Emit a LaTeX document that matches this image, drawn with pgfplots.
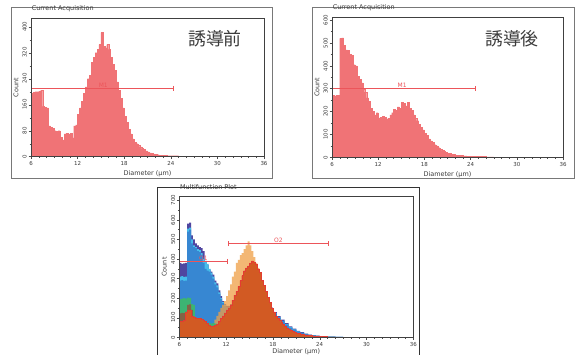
\documentclass[border=0pt]{standalone}
\usepackage{fontspec}
\setmainfont{DejaVu Sans}
\newfontfamily\jp{Noto Sans CJK JP}
\usepackage{pgfplots}
\pgfplotsset{compat=1.18}
\usetikzlibrary{arrows.meta}
\definecolor{histred}{RGB}{240,115,118}
\definecolor{markred}{RGB}{236,85,90}
\definecolor{cP}{RGB}{80,70,160}
\definecolor{cC}{RGB}{70,190,235}
\definecolor{cB}{RGB}{55,135,210}
\definecolor{cO}{RGB}{240,160,70}
\definecolor{cG}{RGB}{60,180,115}
\definecolor{cBr}{RGB}{130,100,70}
\definecolor{cR}{RGB}{210,90,35}
\definecolor{cRedge}{RGB}{228,60,50}
\definecolor{framecol}{RGB}{120,120,120}
\definecolor{txt}{RGB}{60,60,60}
\pgfplotsset{hist/.style={
  scale only axis, anchor=south west, xmin=6, xmax=36, ymin=0,
  xtick={6,12,...,36}, minor x tick num=5, minor y tick num=1,
  tick align=outside, tick pos=left,
  major tick length=2.5bp, minor tick length=1.5bp,
  every tick/.style={gray!60!black, line width=0.4bp},
  axis line style={gray!50!black, line width=0.6bp},
  tick label style={font=\fontsize{5.5}{6}\selectfont, text=txt},
  /pgf/number format/assume math mode=true,
  yticklabel style={rotate=90, anchor=south, inner sep=1.5bp},
  xticklabel style={inner sep=2bp},
  label style={font=\fontsize{6.5}{7}\selectfont, text=txt},
  xlabel={Diameter (μm)}, ylabel={Count},
  xlabel style={inner sep=0.5bp, yshift=-2.5bp},
  ylabel style={inner sep=0.5bp, yshift=2bp},
  title style={at={(0,1)}, anchor=south west, inner sep=0.6bp,
    font=\fontsize{6.5}{7}\selectfont, text=txt},
  axis on top,
}}
\begin{document}
\begin{tikzpicture}
\useasboundingbox (0,0) rectangle (578bp,355bp);
\fill[white] (0,0) rectangle (578bp,355bp);
\draw[framecol, line width=0.8bp] (11.7bp,177bp) rectangle (272.5bp,347.5bp);
\draw[framecol, line width=0.8bp] (312bp,177bp) rectangle (574bp,347.5bp);
\draw[gray!40!black, line width=0.8bp] (157bp,-5bp) rectangle (419.3bp,167.3bp);

% ---------------- Panel 1 ----------------
\begin{axis}[hist, at={(31bp,198.3bp)}, width=233bp, height=138.4bp,
  ymax=426, ytick={0,80,...,400}, title={Current Acquisition}]
\addplot[const plot, fill=histred, draw=histred, line width=0.3bp] coordinates {
(6.00,195) (6.25,198) (6.50,200) (6.75,200) (7.00,202) (7.25,205)
(7.50,155) (7.75,152) (8.00,150) (8.25,95) (8.50,90) (8.75,88)
(9.00,80) (9.25,78) (9.50,80) (9.75,60) (10.00,52) (10.25,70)
(10.50,72) (10.75,68) (11.00,72) (11.25,58) (11.50,95) (11.75,98)
(12.00,130) (12.25,150) (12.50,170) (12.75,195) (13.00,215) (13.25,240)
(13.50,250) (13.75,290) (14.00,305) (14.25,320) (14.50,330) (14.75,345)
(15.00,382) (15.25,340) (15.50,335) (15.75,345) (16.00,330) (16.25,305)
(16.50,285) (16.75,265) (17.00,230) (17.25,205) (17.50,180) (17.75,150)
(18.00,125) (18.25,105) (18.50,85) (18.75,70) (19.00,55) (19.25,45)
(19.50,40) (19.75,35) (20.00,30) (20.25,25) (20.50,22) (20.75,18)
(21.00,15) (21.25,12) (21.50,10) (21.75,8) (22.00,7) (22.25,6)
(22.50,5) (23.00,4) (23.50,3) (24.00,3) (25.00,2) (26.00,1)
(27.00,1) (28.00,0.5) (29.00,0)} \closedcycle;
\draw[markred, line width=0.6bp, -{Bar[width=5bp]}] (axis cs:6,210) -- (axis cs:24.4,210);
\node[text=markred, font=\fontsize{6}{6}\selectfont, anchor=south, inner sep=0.5bp] at (axis cs:15.3,210) {M1};
\end{axis}
\node[font=\jp\fontsize{18}{18}\selectfont, text=txt] at (215bp,316.5bp) {誘導前};

% ---------------- Panel 2 ----------------
\begin{axis}[hist, at={(332bp,197.7bp)}, width=231bp, height=140bp,
  ymax=612, ytick={0,100,...,600}, title={Current Acquisition}]
\addplot[const plot, fill=histred, draw=histred, line width=0.3bp] coordinates {
(6.00,270) (6.25,268) (6.50,270) (6.75,272) (7.00,520) (7.25,522)
(7.50,490) (7.75,470) (8.00,468) (8.25,450) (8.50,445) (8.75,405)
(9.00,400) (9.25,355) (9.50,340) (9.75,325) (10.00,300) (10.25,285)
(10.50,260) (10.75,245) (11.00,215) (11.25,200) (11.50,185) (11.75,195)
(12.00,172) (12.25,175) (12.50,180) (12.75,175) (13.00,168) (13.25,170)
(13.50,185) (13.75,195) (14.00,210) (14.25,205) (14.50,220) (14.75,215)
(15.00,240) (15.25,235) (15.50,225) (15.75,240) (16.00,215) (16.25,205)
(16.50,185) (16.75,170) (17.00,160) (17.25,145) (17.50,130) (17.75,120)
(18.00,105) (18.25,95) (18.50,80) (18.75,72) (19.00,65) (19.25,55)
(19.50,50) (19.75,42) (20.00,35) (20.25,30) (20.50,27) (20.75,22)
(21.00,18) (21.25,16) (21.50,14) (21.75,12) (22.00,10) (22.50,8)
(23.00,6) (23.50,5) (24.00,4) (25.00,3) (26.00,2) (27.00,1)
(28.00,1) (29.00,0.5) (30.00,0)} \closedcycle;
\draw[markred, line width=0.6bp, -{Bar[width=5bp]}] (axis cs:6,300) -- (axis cs:24.7,300);
\node[text=markred, font=\fontsize{6}{6}\selectfont, anchor=south, inner sep=0.5bp] at (axis cs:15.1,300) {M1};
\end{axis}
\node[font=\jp\fontsize{18}{18}\selectfont, text=txt] at (512bp,316.5bp) {誘導後};

% ---------------- Panel 3 ----------------
\begin{axis}[hist, at={(179.3bp,17.7bp)}, width=234bp, height=140.6bp,
  ymax=718, ytick={0,100,...,700}, title={Multifunction Plot},
  xlabel style={yshift=3.2bp}]
% purple
\addplot[const plot, fill=cP, draw=none] coordinates {
(6.00,380) (6.25,375) (6.50,378) (6.75,380) (7.00,580) (7.25,585)
(7.50,520) (7.75,500) (8.00,480) (8.25,470) (8.50,460) (8.75,455)
(9.00,440) (9.25,390) (9.50,370) (9.75,345) (10.00,335) (10.25,320)
(10.50,290) (10.75,275) (11.00,240) (11.25,210) (11.50,185) (11.75,170)
(12.00,160) (12.50,170) (13.00,190) (13.50,205) (14.00,225) (14.50,240)
(15.00,260) (15.50,255) (16.00,240) (16.50,210) (17.00,180) (17.50,152)
(18.00,128) (18.50,108) (19.00,90) (19.50,72) (20.00,56) (20.50,44)
(21.00,33) (21.50,26) (22.00,19) (22.50,14) (23.00,11) (23.50,8)
(24.00,6) (25.00,4) (26.00,2.5) (27.00,1.5) (28.00,0.8) (29.00,0)} \closedcycle;
% cyan
\addplot[const plot, fill=cC, draw=none] coordinates {
(6.00,310) (6.25,312) (6.50,308) (6.75,310) (7.00,555) (7.25,560)
(7.50,500) (7.75,470) (8.00,460) (8.25,450) (8.50,445) (8.75,430)
(9.00,400) (9.25,385) (9.50,375) (9.75,350) (10.00,330) (10.25,310)
(10.50,280) (10.75,265) (11.00,230) (11.25,200) (11.50,180) (11.75,165)
(12.00,152) (12.50,162) (13.00,182) (13.50,198) (14.00,218) (14.50,232)
(15.00,252) (15.50,247) (16.00,232) (16.50,202) (17.00,172) (17.50,147)
(18.00,122) (18.50,102) (19.00,84) (19.50,67) (20.00,52) (20.50,40)
(21.00,30) (21.50,23) (22.00,17) (22.50,13) (23.00,10) (23.50,7)
(24.00,5) (25.00,3) (26.00,2) (27.00,1) (28.00,0.5) (29.00,0)} \closedcycle;
% blue
\addplot[const plot, fill=cB, draw=none] coordinates {
(6.00,290) (6.25,292) (6.50,288) (6.75,290) (7.00,540) (7.25,550)
(7.50,480) (7.75,460) (8.00,455) (8.25,440) (8.50,435) (8.75,420)
(9.00,380) (9.25,350) (9.50,340) (9.75,335) (10.00,320) (10.25,300)
(10.50,270) (10.75,255) (11.00,220) (11.25,195) (11.50,175) (11.75,160)
(12.00,150) (12.50,160) (13.00,180) (13.50,195) (14.00,215) (14.50,230)
(15.00,250) (15.50,245) (16.00,230) (16.50,200) (17.00,170) (17.50,145)
(18.00,120) (18.50,100) (19.00,82) (19.50,65) (20.00,50) (20.50,38)
(21.00,28) (21.50,22) (22.00,16) (22.50,12) (23.00,9) (23.50,7)
(24.00,5) (25.00,3) (26.00,2) (27.00,1) (28.00,0.5) (29.00,0)} \closedcycle;
% light orange
\addplot[const plot, fill=cO, fill opacity=0.75, draw=none] coordinates {
(10.00,55) (10.25,70) (10.50,90) (10.75,110) (11.00,130) (11.25,150)
(11.50,165) (11.75,185) (12.00,210) (12.25,240) (12.50,270) (12.75,310)
(13.00,335) (13.25,380) (13.50,395) (13.75,420) (14.00,430) (14.25,450)
(14.50,470) (14.75,490) (15.00,470) (15.25,440) (15.50,410) (15.75,380)
(16.00,355) (16.25,320) (16.50,290) (16.75,262) (17.00,232) (17.25,202)
(17.50,176) (17.75,148) (18.00,125) (18.25,105) (18.50,90) (19.00,0)} \closedcycle;
% green
\addplot[const plot, fill=cG, draw=none] coordinates {
(6.00,195) (6.25,198) (6.50,200) (6.75,198) (7.00,202) (7.25,200)
(7.50,170) (7.75,165) (8.00,100) (8.25,97) (8.50,96) (8.75,92)
(9.00,86) (9.25,82) (9.50,74) (9.75,72) (10.00,70) (10.25,72)
(10.50,70) (10.75,68) (11.00,0)} \closedcycle;
% brown
\addplot[const plot, fill=cBr, draw=none] coordinates {
(6.00,122) (6.25,125) (6.50,124) (6.75,130) (7.00,165) (7.25,168)
(7.50,140) (7.75,0)} \closedcycle;
% dark orange / red
\addplot[const plot, fill=cR, draw=cRedge, line width=0.4bp] coordinates {
(6.00,80) (6.25,82) (6.50,85) (6.75,130) (7.00,140) (7.25,138)
(7.50,110) (7.75,105) (8.00,100) (8.25,95) (8.50,95) (8.75,90)
(9.00,85) (9.25,80) (9.50,70) (9.75,62) (10.00,55) (10.25,58)
(10.50,60) (10.75,65) (11.00,80) (11.25,95) (11.50,110) (11.75,125)
(12.00,140) (12.25,150) (12.50,165) (12.75,190) (13.00,215) (13.25,235)
(13.50,260) (13.75,290) (14.00,315) (14.25,340) (14.50,355) (14.75,365)
(15.00,380) (15.25,390) (15.50,385) (15.75,372) (16.00,350) (16.25,330)
(16.50,290) (16.75,265) (17.00,235) (17.25,205) (17.50,180) (17.75,150)
(18.00,130) (18.25,110) (18.50,98) (18.75,88) (19.00,75) (19.25,65)
(19.50,55) (19.75,48) (20.00,42) (20.25,36) (20.50,30) (20.75,25)
(21.00,21) (21.50,16) (22.00,12) (22.50,9) (23.00,7) (23.50,5)
(24.00,4) (25.00,2) (26.00,1.5) (27.00,1) (28.00,0.5) (29.00,0)} \closedcycle;
\draw[markred, line width=0.6bp, {Bar[width=5bp]}-{Bar[width=5bp]}] (axis cs:6,388) -- (axis cs:12.2,388);
\node[text=markred, font=\fontsize{6}{6}\selectfont, anchor=south, inner sep=0.5bp] at (axis cs:9.1,388) {O1};
\draw[markred, line width=0.6bp, {Bar[width=5bp]}-{Bar[width=5bp]}] (axis cs:12.2,478) -- (axis cs:25.1,478);
\node[text=markred, font=\fontsize{6}{6}\selectfont, anchor=south, inner sep=0.5bp] at (axis cs:18.7,478) {O2};
\end{axis}
\end{tikzpicture}
\end{document}
